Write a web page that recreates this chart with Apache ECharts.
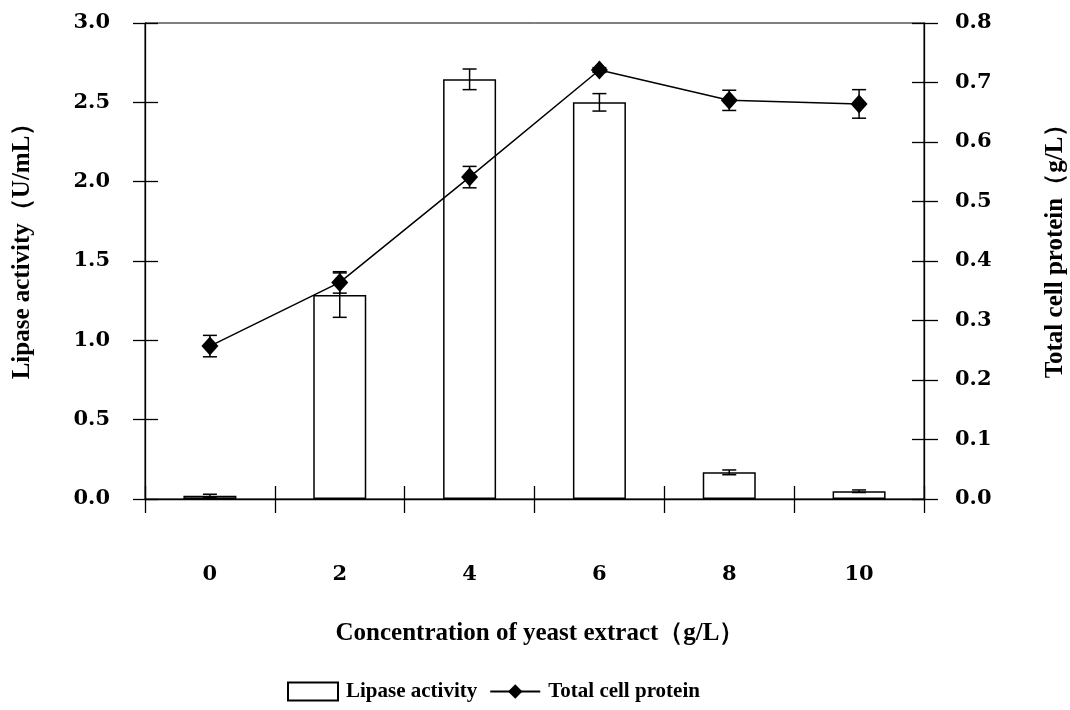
<!DOCTYPE html>
<html>
<head>
<meta charset="utf-8">
<title>Lipase activity and total cell protein</title>
<script src="https://cdn.jsdelivr.net/npm/echarts@6/dist/echarts.min.js"></script>
<style>
  html, body { margin: 0; padding: 0; background: #fff; }
  #chart { width: 1070px; height: 710px; }
</style>
</head>
<body>
<div id="chart"></div>
<script>
// 数据（从图上读出来的）
var categories = ['0', '2', '4', '6', '8', '10'];
var lipase = [0.02, 1.285, 2.645, 2.50, 0.168, 0.049];
var lipaseErr = [0.01, 0.14, 0.065, 0.055, 0.015, 0.008];
var protein = [0.257, 0.364, 0.541, 0.721, 0.670, 0.664];
var proteinErr = [0.018, 0.018, 0.018, 0.004, 0.017, 0.024];
var leftTicks = [0, 3, 0.5];     // min, max, interval
var rightTicks = [0, 0.8, 0.1];

var tickFont = { fontFamily: 'DejaVu Serif', fontWeight: 'bold', fontSize: 21, color: '#000' };
var titleFont = 'bold 25px "Liberation Serif"';

// 误差线数据 [类别序号, 下限, 上限]
function errData(vals, errs) {
  return vals.map(function (v, i) { return [i, v - errs[i], v + errs[i]]; });
}

function renderErr(params, api) {
  var x = api.value(0);
  var lo = api.coord([x, api.value(1)]);
  var hi = api.coord([x, api.value(2)]);
  var half = 7;
  var st = { stroke: '#000', lineWidth: 1.5 };
  return {
    type: 'group',
    children: [
      { type: 'line', shape: { x1: hi[0], y1: hi[1], x2: lo[0], y2: lo[1] }, style: st },
      { type: 'line', shape: { x1: hi[0] - half, y1: hi[1], x2: hi[0] + half, y2: hi[1] }, style: st },
      { type: 'line', shape: { x1: lo[0] - half, y1: lo[1], x2: lo[0] + half, y2: lo[1] }, style: st }
    ]
  };
}

var blackLine = { lineStyle: { color: '#000', width: 1.3 } };

var chart = echarts.init(document.getElementById('chart'));
var option = {
  backgroundColor: '#fff',
  animation: false,
  grid: {
    left: 145, right: 146, top: 23, bottom: 211,
    show: true, borderColor: '#000', borderWidth: 1, backgroundColor: 'transparent'
  },
  legend: {
    bottom: 3,
    left: 282,
    itemWidth: 50,
    itemHeight: 18,
    itemGap: 12,
    textStyle: { fontFamily: 'Liberation Serif', fontWeight: 'bold', fontSize: 21, color: '#000', padding: [0, 0, 0, 3] },
    data: [{ name: 'Lipase activity', icon: 'rect' }, { name: 'Total cell protein' }]
  },
  graphic: [
    { type: 'text', x: 23, y: 245, rotation: Math.PI / 2,
      style: { text: 'Lipase activity（U/mL）', font: titleFont, fill: '#000', textAlign: 'center', textVerticalAlign: 'middle' } },
    { type: 'text', x: 1056, y: 245, rotation: Math.PI / 2,
      style: { text: 'Total cell protein（g/L）', font: titleFont, fill: '#000', textAlign: 'center', textVerticalAlign: 'middle' } },
    { type: 'text', x: 540, y: 634,
      style: { text: 'Concentration of yeast extract（g/L）', font: titleFont, fill: '#000', textAlign: 'center', textVerticalAlign: 'middle' } }
  ],
  xAxis: [
    {
      type: 'category', data: categories, position: 'bottom',
      axisLine: blackLine,
      axisTick: { show: true, length: 14, lineStyle: { color: '#000', width: 1.3 } },
      axisLabel: Object.assign({ margin: 65 }, tickFont),
      splitLine: { show: false }
    },
    {
      type: 'category', data: categories, position: 'bottom',
      axisLine: { show: false },
      axisTick: { show: true, inside: true, length: 13, lineStyle: { color: '#000', width: 1.3 } },
      axisLabel: { show: false },
      splitLine: { show: false }
    }
  ],
  yAxis: [
    {
      type: 'value', position: 'left', min: leftTicks[0], max: leftTicks[1], interval: leftTicks[2],
      axisLine: Object.assign({ show: true }, blackLine),
      axisTick: { show: true, length: 12, lineStyle: { color: '#000', width: 1.3 } },
      axisLabel: Object.assign({ margin: 35, formatter: function (v) { return v.toFixed(1); } }, tickFont),
      splitLine: { show: false }
    },
    {
      type: 'value', position: 'right', min: rightTicks[0], max: rightTicks[1], interval: rightTicks[2],
      axisLine: Object.assign({ show: true }, blackLine),
      axisTick: { show: true, length: 14, lineStyle: { color: '#000', width: 1.3 } },
      axisLabel: Object.assign({ margin: 31, formatter: function (v) { return v.toFixed(1); } }, tickFont),
      splitLine: { show: false }
    },
    {
      type: 'value', position: 'left', min: leftTicks[0], max: leftTicks[1], interval: leftTicks[2],
      axisLine: { show: false },
      axisTick: { show: true, inside: true, length: 13, lineStyle: { color: '#000', width: 1.3 } },
      axisLabel: { show: false },
      splitLine: { show: false }
    },
    {
      type: 'value', position: 'right', min: rightTicks[0], max: rightTicks[1], interval: rightTicks[2],
      axisLine: { show: false },
      axisTick: { show: true, inside: true, length: 12, lineStyle: { color: '#000', width: 1.3 } },
      axisLabel: { show: false },
      splitLine: { show: false }
    }
  ],
  series: [
    {
      name: 'Lipase activity',
      type: 'bar',
      xAxisIndex: 0, yAxisIndex: 0,
      barWidth: 53,
      itemStyle: { color: '#fff', borderColor: '#000', borderWidth: 1.5 },
      data: lipase,
      z: 2
    },
    {
      name: 'lipaseErr',
      type: 'custom',
      xAxisIndex: 0, yAxisIndex: 0,
      renderItem: renderErr,
      data: errData(lipase, lipaseErr),
      z: 3
    },
    {
      name: 'proteinErr',
      type: 'custom',
      xAxisIndex: 0, yAxisIndex: 1,
      renderItem: renderErr,
      data: errData(protein, proteinErr),
      z: 4
    },
    {
      name: 'Total cell protein',
      type: 'line',
      xAxisIndex: 0, yAxisIndex: 1,
      symbol: 'diamond',
      symbolSize: [17, 19],
      lineStyle: { color: '#000', width: 1.5 },
      itemStyle: { color: '#000' },
      data: protein,
      z: 5
    }
  ]
};
chart.setOption(option, true);
</script>
</body>
</html>
